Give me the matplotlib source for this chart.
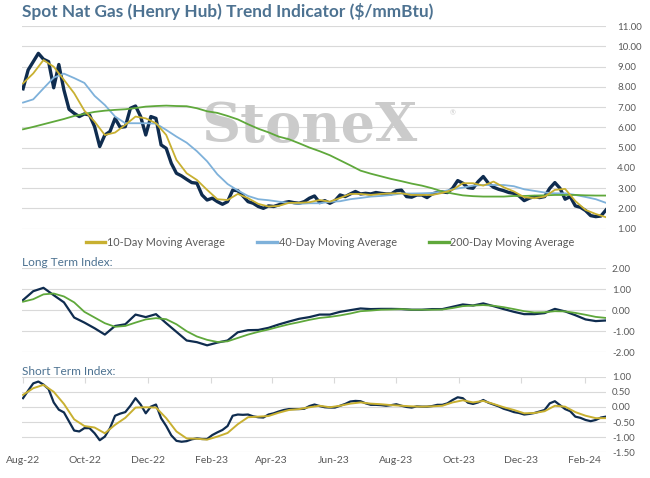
import matplotlib
matplotlib.use("Agg")
import matplotlib.pyplot as plt
import matplotlib.dates as mdates
from matplotlib.lines import Line2D
import pandas as pd

plt.rcParams['font.family'] = ['Lato', 'DejaVu Sans']

# ---------------- data ----------------
spot_dates = pd.date_range('2022-08-01', periods=115, freq='5D')
ma_dates = pd.date_range('2022-08-01', periods=58, freq='10D')

spot = [7.9, 8.83, 9.24, 9.65, 9.36, 9.24, 7.95, 9.1, 7.84, 6.89,
        6.69, 6.53, 6.66, 6.61, 6.03, 5.05, 5.62, 5.79, 6.44, 6.0,
        6.03, 6.94, 7.05, 6.53, 5.62, 6.53, 6.44, 5.13, 4.96, 4.22,
        3.73, 3.6, 3.43, 3.27, 3.24, 2.66, 2.41, 2.5, 2.33, 2.2,
        2.33, 2.9, 2.87, 2.61, 2.33, 2.25, 2.09, 2.0, 2.12, 2.09,
        2.17, 2.28, 2.33, 2.28, 2.25, 2.33, 2.5, 2.61, 2.28, 2.38,
        2.25, 2.38, 2.66, 2.58, 2.71, 2.83, 2.71, 2.74, 2.71, 2.78,
        2.74, 2.71, 2.71, 2.87, 2.9, 2.58, 2.55, 2.66, 2.66, 2.53,
        2.71, 2.78, 2.81, 2.78, 2.99, 3.37, 3.24, 3.02, 2.99, 3.32,
        3.57, 3.24, 3.04, 2.94, 2.87, 2.78, 2.74, 2.61, 2.38, 2.5,
        2.58, 2.53, 2.58, 2.99, 3.27, 2.99, 2.45, 2.58, 2.12, 2.05,
        1.89, 1.64, 1.59, 1.62, 1.92]

ma10 = [8.17, 8.66, 9.32, 8.99, 8.34, 7.68, 6.82, 6.28, 5.62, 5.74,
        6.12, 6.53, 6.44, 6.2, 5.62, 4.39, 3.73, 3.4, 2.91, 2.45,
        2.41, 2.71, 2.5, 2.22, 2.09, 2.12, 2.27, 2.27, 2.3, 2.41,
        2.33, 2.51, 2.71, 2.71, 2.66, 2.71, 2.74, 2.74, 2.66, 2.66,
        2.66, 2.76, 2.91, 3.24, 3.24, 3.12, 3.32, 3.04, 2.83, 2.55,
        2.5, 2.58, 2.91, 2.96, 2.36, 1.92, 1.72, 1.56]

ma40 = [7.22, 7.38, 7.92, 8.45, 8.65, 8.43, 8.19, 7.55, 7.1, 6.53,
        6.2, 6.2, 6.2, 6.18, 5.87, 5.54, 5.24, 4.82, 4.32, 3.68,
        3.2, 2.88, 2.61, 2.45, 2.4, 2.33, 2.27, 2.22, 2.25, 2.25,
        2.32, 2.35, 2.45, 2.51, 2.58, 2.61, 2.66, 2.73, 2.73, 2.74,
        2.76, 2.83, 2.94, 3.02, 3.12, 3.15, 3.15, 3.15, 3.09, 2.94,
        2.86, 2.78, 2.74, 2.74, 2.66, 2.56, 2.45, 2.27]

ma200 = [5.9, 6.02, 6.15, 6.28, 6.41, 6.56, 6.66, 6.76, 6.82, 6.86,
         6.89, 6.95, 7.02, 7.05, 7.07, 7.05, 7.04, 6.94, 6.79, 6.71,
         6.56, 6.39, 6.15, 5.93, 5.75, 5.54, 5.41, 5.21, 5.0, 4.82,
         4.62, 4.37, 4.12, 3.86, 3.71, 3.58, 3.45, 3.34, 3.22, 3.12,
         2.99, 2.83, 2.73, 2.64, 2.6, 2.58, 2.58, 2.58, 2.61, 2.61,
         2.63, 2.64, 2.66, 2.66, 2.66, 2.64, 2.63, 2.63]

long_index = [0.48, 0.9, 1.06, 0.71, 0.37, -0.35, -0.59, -0.86, -1.16, -0.75,
              -0.67, -0.21, -0.33, -0.19, -0.62, -1.03, -1.44, -1.52, -1.67, -1.54,
              -1.44, -1.05, -0.95, -0.94, -0.84, -0.68, -0.54, -0.41, -0.33, -0.21,
              -0.21, -0.08, 0.0, 0.08, 0.05, 0.06, 0.06, 0.05, 0.02, 0.02,
              0.05, 0.05, 0.16, 0.27, 0.22, 0.32, 0.19, 0.05, -0.08, -0.19,
              -0.19, -0.14, 0.06, -0.06, -0.24, -0.44, -0.52, -0.49]

long_avg = [0.4, 0.52, 0.75, 0.79, 0.65, 0.37, -0.08, -0.35, -0.62, -0.79,
            -0.75, -0.59, -0.44, -0.38, -0.43, -0.67, -1.0, -1.25, -1.41, -1.51,
            -1.48, -1.32, -1.16, -1.03, -0.92, -0.79, -0.67, -0.57, -0.46, -0.37,
            -0.32, -0.25, -0.16, -0.05, -0.02, 0.02, 0.03, 0.05, 0.02, 0.02,
            0.02, 0.03, 0.1, 0.19, 0.22, 0.24, 0.21, 0.14, 0.05, -0.05,
            -0.11, -0.1, -0.05, -0.06, -0.13, -0.22, -0.32, -0.37]

short_index = [0.29, 0.54, 0.78, 0.84, 0.74, 0.59, 0.15, -0.09, -0.18, -0.48,
               -0.78, -0.81, -0.7, -0.7, -0.87, -1.1, -0.98, -0.7, -0.29, -0.22,
               -0.17, 0.04, 0.29, 0.08, -0.21, 0.01, 0.08, -0.37, -0.63, -0.94,
               -1.12, -1.15, -1.13, -1.07, -1.04, -1.06, -1.06, -0.93, -0.84, -0.76,
               -0.63, -0.29, -0.25, -0.26, -0.25, -0.31, -0.34, -0.35, -0.25, -0.21,
               -0.15, -0.1, -0.07, -0.07, -0.07, -0.06, 0.03, 0.08, 0.03, -0.01,
               -0.02, -0.02, 0.04, 0.1, 0.18, 0.2, 0.19, 0.12, 0.07, 0.07,
               0.06, 0.04, 0.06, 0.09, 0.04, 0.0, -0.02, 0.02, 0.01, 0.01,
               0.03, 0.07, 0.07, 0.12, 0.23, 0.32, 0.29, 0.14, 0.1, 0.15,
               0.23, 0.14, 0.08, 0.02, -0.06, -0.11, -0.17, -0.2, -0.25, -0.23,
               -0.2, -0.15, -0.1, 0.12, 0.19, 0.06, -0.07, -0.14, -0.32, -0.36,
               -0.43, -0.47, -0.43, -0.35, -0.32]

short_avg = [0.4, 0.62, 0.73, 0.5, 0.1, -0.41, -0.63, -0.68, -0.87, -0.59,
             -0.36, -0.02, -0.01, -0.02, -0.37, -0.81, -1.04, -1.05, -1.08, -0.98,
             -0.86, -0.57, -0.34, -0.32, -0.3, -0.19, -0.1, -0.07, -0.01, 0.04,
             -0.01, 0.04, 0.11, 0.15, 0.11, 0.09, 0.06, 0.04, 0.02, 0.01,
             0.02, 0.04, 0.15, 0.22, 0.15, 0.2, 0.1, -0.01, -0.1, -0.21,
             -0.2, -0.14, 0.04, 0.01, -0.17, -0.29, -0.37, -0.37]

legend_labels = ['10-Day Moving Average', '40-Day Moving Average', '200-Day Moving Average']
top_ticks = [1, 2, 3, 4, 5, 6, 7, 8, 9, 10, 11]
long_ticks = [-2, -1, 0, 1, 2]
short_ticks = [-1.5, -1.0, -0.5, 0.0, 0.5, 1.0]

# ---------------- style ----------------
NAVY = '#0f2c4f'
GOLD = '#c8b031'
LBLUE = '#7eb1da'
GREEN = '#5fa83b'
GRID = '#d9d9d9'
TXT = '#595959'
SLATE = '#4d7291'

fig = plt.figure(figsize=(6.5, 4.78), dpi=100)
L, W = 22 / 650, 584 / 650
ax1 = fig.add_axes([L, 0.5218, W, 0.4238])
ax2 = fig.add_axes([L, 0.2630, W, 0.1763])
ax3 = fig.add_axes([L, 0.0537, W, 0.1582])

xmin, xmax = pd.Timestamp('2022-07-31'), pd.Timestamp('2024-02-22')


def style(ax, ticks, lo, hi, pad):
    ax.set_xlim(xmin, xmax)
    ax.set_ylim(lo, hi)
    ax.set_yticks(ticks)
    ax.yaxis.set_major_formatter(matplotlib.ticker.FormatStrFormatter('%.2f'))
    ax.yaxis.tick_right()
    ax.tick_params(axis='y', length=0, pad=pad, labelsize=7, labelcolor=TXT)
    ax.grid(axis='y', color=GRID, linewidth=0.8)
    ax.set_axisbelow(True)
    for s in ax.spines.values():
        s.set_visible(False)
    ax.xaxis.set_major_locator(mdates.MonthLocator(bymonth=[2, 4, 6, 8, 10, 12]))
    ax.xaxis.set_major_formatter(mdates.DateFormatter('%b-%y'))


style(ax1, top_ticks, 1, 11, 8)
style(ax2, long_ticks, -2, 2, 4.3)
style(ax3, short_ticks, -1.5, 1.0, 4.3)
for ax in (ax1, ax2):
    ax.tick_params(axis='x', bottom=False, labelbottom=False)
ax3.tick_params(axis='x', bottom=False, top=True, direction='in', length=4,
                color=GRID, width=0.8, labelbottom=True, labeltop=False,
                labelsize=7.5, labelcolor=TXT, pad=3)

# watermark
ax1.text(0.493, 0.50, 'StoneX', transform=ax1.transAxes, ha='center', va='center',
         fontsize=39, fontweight='bold', family='DejaVu Serif', color='#cbcbcb', zorder=1)
ax1.text(0.737, 0.57, '®', transform=ax1.transAxes, ha='center', va='center',
         fontsize=5, color='#cbcbcb', zorder=1)

# top panel
ax1.plot(spot_dates, spot, color=NAVY, linewidth=2.4, zorder=3, solid_joinstyle='round')
ax1.plot(ma_dates, ma40, color=LBLUE, linewidth=1.3, zorder=4)
ax1.plot(ma_dates, ma200, color=GREEN, linewidth=1.3, zorder=4)
ax1.plot(ma_dates, ma10, color=GOLD, linewidth=1.3, zorder=5)

# long term index
ax2.plot(ma_dates, long_index, color=NAVY, linewidth=1.6, zorder=3)
ax2.plot(ma_dates, long_avg, color=GREEN, linewidth=1.3, zorder=4)

# short term index
ax3.plot(spot_dates, short_index, color=NAVY, linewidth=1.6, zorder=3)
ax3.plot(ma_dates, short_avg, color=GOLD, linewidth=1.4, zorder=4)

# titles
fig.text(L, 1 - 12 / 478, 'Spot Nat Gas (Henry Hub) Trend Indicator ($/mmBtu)',
         ha='left', va='center', fontsize=12.4, fontweight='bold', color=SLATE)
fig.text(L, 1 - 263 / 478, 'Long Term Index:', ha='left', va='center',
         fontsize=8.6, color=SLATE)
fig.text(L, 1 - 371.5 / 478, 'Short Term Index:', ha='left', va='center',
         fontsize=8.6, color=SLATE)

handles = [Line2D([], [], color=GOLD, linewidth=2.4),
           Line2D([], [], color=LBLUE, linewidth=2.4),
           Line2D([], [], color=GREEN, linewidth=2.4)]
leg = fig.legend(handles, legend_labels, loc='center', bbox_to_anchor=(0.508, 1 - 242.5 / 478),
                 ncol=3, frameon=False, fontsize=7.8, handlelength=1.8,
                 handletextpad=0.15, columnspacing=3.0, borderpad=0, borderaxespad=0)
for t in leg.get_texts():
    t.set_color(TXT)

fig.savefig('out.png', dpi=100)
